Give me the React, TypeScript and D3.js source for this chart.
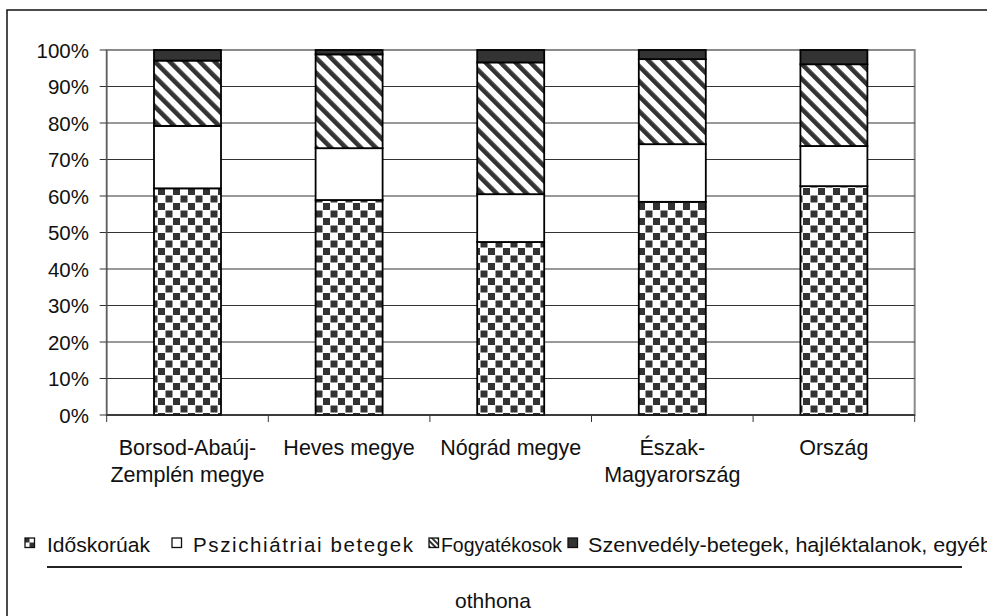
import React from "react";
import * as d3 from "d3";

const categories: string[][] = [
  ["Borsod-Abaúj-", "Zemplén megye"],
  ["Heves megye"],
  ["Nógrád megye"],
  ["Észak-", "Magyarország"],
  ["Ország"],
];
const seriesNames = [
  "Időskorúak",
  "Pszichiátriai  betegek",
  "Fogyatékosok",
  "Szenvedély-betegek, hajléktalanok, egyéb",
];
const idoskoruak = [62.1, 58.9, 47.4, 58.4, 62.7];
const pszichiatriai = [17.1, 14.2, 13.1, 15.8, 11.0];
const fogyatekosok = [17.9, 25.7, 36.1, 23.3, 22.4];
const szenvedely = [2.9, 1.2, 3.4, 2.5, 3.9];
const yTicks = [0, 0.1, 0.2, 0.3, 0.4, 0.5, 0.6, 0.7, 0.8, 0.9, 1.0];
const secondLegendLine = "othhona";

const W = 987;
const H = 616;
const plotL = 106.7;
const plotR = 914.7;
const plotT = 50;
const plotB = 415;
const FONT = "'Liberation Sans', Arial, sans-serif";

const fills = ["url(#checker)", "#ffffff", "url(#stripes)", "#333333"];

export default function App() {
  const keys = ["a", "b", "c", "d"];
  const rows = categories.map((_, i) => ({
    a: idoskoruak[i],
    b: pszichiatriai[i],
    c: fogyatekosok[i],
    d: szenvedely[i],
  }));
  const stack = d3.stack<any>().keys(keys).offset(d3.stackOffsetExpand);
  const layers = stack(rows as any);

  const x = d3
    .scaleBand<number>()
    .domain(categories.map((_, i) => i))
    .range([plotL, plotR])
    .paddingInner(0)
    .paddingOuter(0);
  const y = d3.scaleLinear().domain([0, 1]).range([plotB, plotT]);
  const barW = 67;
  const fmt = d3.format(".0%");

  const legendItems: { mx: number; tx: number; tw: number; adj: string }[] = [
    { mx: 25, tx: 47, tw: 103, adj: "spacingAndGlyphs" },
    { mx: 172, tx: 193, tw: 220, adj: "spacing" },
    { mx: 429, tx: 441, tw: 121, adj: "spacingAndGlyphs" },
    { mx: 568, tx: 588, tw: 404, adj: "spacingAndGlyphs" },
  ];

  return (
    <div style={{ position: "absolute", left: 0, top: 0 }}>
      <svg width={W} height={H} style={{ display: "block", background: "#fff" }}>
        <defs>
          <pattern id="checker" patternUnits="userSpaceOnUse" width={15} height={15}>
            <rect width={15} height={15} fill="#fff" />
            <rect x={0.5} y={0.5} width={7} height={7} fill="#333" />
            <rect x={8} y={8} width={7} height={7} fill="#333" />
          </pattern>
          <pattern
            id="stripes"
            patternUnits="userSpaceOnUse"
            width={10.6}
            height={10.6}
            patternTransform="rotate(-45)"
          >
            <rect width={10.6} height={10.6} fill="#fff" />
            <rect x={0} y={0} width={4.6} height={10.6} fill="#333" />
          </pattern>
          <pattern id="checkerSmall" patternUnits="userSpaceOnUse" width={9} height={9} x={25} y={538}>
            <rect width={9} height={9} fill="#fff" />
            <rect x={0} y={0} width={4.5} height={4.5} fill="#333" />
            <rect x={4.5} y={4.5} width={4.5} height={4.5} fill="#333" />
          </pattern>
          <pattern
            id="stripesSmall"
            patternUnits="userSpaceOnUse"
            width={4}
            height={4}
            patternTransform="rotate(-45)"
          >
            <rect width={4} height={4} fill="#fff" />
            <rect x={0} y={0} width={2} height={4} fill="#333" />
          </pattern>
        </defs>

        {/* outer frame (extends beyond the picture) */}
        <rect x={7} y={10} width={1100} height={800} fill="none" stroke="#111" strokeWidth={1.5} />

        {/* plot border */}
        <rect
          x={plotL}
          y={plotT}
          width={plotR - plotL}
          height={plotB - plotT}
          fill="none"
          stroke="#8a8a8a"
          strokeWidth={2}
        />

        {/* gridlines and y ticks */}
        {yTicks.map((t) => (
          <g key={t}>
            {t > 0 && t < 1 && (
              <line x1={plotL} x2={plotR} y1={y(t)} y2={y(t)} stroke="#333" strokeWidth={1} />
            )}
            <line x1={plotL - 7} x2={plotL} y1={y(t)} y2={y(t)} stroke="#333" strokeWidth={1} />
            <text
              x={89}
              y={y(t)}
              textAnchor="end"
              dominantBaseline="central"
              fontFamily={FONT}
              fontSize={20.5}
              fill="#111"
            >
              {fmt(t)}
            </text>
          </g>
        ))}
        <line x1={plotL} x2={plotL} y1={plotT} y2={plotB} stroke="#555" strokeWidth={1} />

        {/* bars */}
        {layers.map((layer, li) => (
          <g key={li}>
            {layer.map((d, i) => {
              const cx = (x(i) as number) + x.bandwidth() / 2;
              return (
                <rect
                  key={i}
                  x={cx - barW / 2}
                  y={y(d[1])}
                  width={barW}
                  height={y(d[0]) - y(d[1])}
                  fill={fills[li]}
                  stroke="#000"
                  strokeWidth={1.8}
                />
              );
            })}
          </g>
        ))}

        {/* x axis */}
        <line x1={plotL} x2={plotR} y1={plotB} y2={plotB} stroke="#222" strokeWidth={1.5} />
        {d3.range(categories.length + 1).map((i) => {
          const xx = plotL + x.bandwidth() * i;
          return <line key={i} x1={xx} x2={xx} y1={plotB} y2={plotB + 7} stroke="#333" strokeWidth={1} />;
        })}
        {categories.map((lines, i) => {
          const cx = (x(i) as number) + x.bandwidth() / 2;
          return (
            <text key={i} textAnchor="middle" fontFamily={FONT} fontSize={21.5} fill="#111">
              {lines.map((ln, j) => (
                <tspan key={j} x={cx} y={455 + j * 27}>
                  {ln}
                </tspan>
              ))}
            </text>
          );
        })}

        {/* legend */}
        {seriesNames.map((name, i) => {
          const it = legendItems[i];
          const mf = ["url(#checkerSmall)", "#fff", "url(#stripesSmall)", "#333"][i];
          return (
            <g key={i}>
              <rect x={it.mx} y={538} width={9.5} height={9.5} fill={mf} stroke="#111" strokeWidth={1.3} />
              <text
                x={it.tx}
                y={552}
                fontFamily={FONT}
                fontSize={20.5}
                fill="#111"
                textLength={it.tw}
                lengthAdjust={it.adj}
              >
                {name}
              </text>
            </g>
          );
        })}
        <line x1={47} x2={962} y1={567} y2={567} stroke="#222" strokeWidth={2} />
        <text x={493} y={608} textAnchor="middle" fontFamily={FONT} fontSize={21} fill="#111">
          {secondLegendLine}
        </text>
      </svg>
    </div>
  );
}
